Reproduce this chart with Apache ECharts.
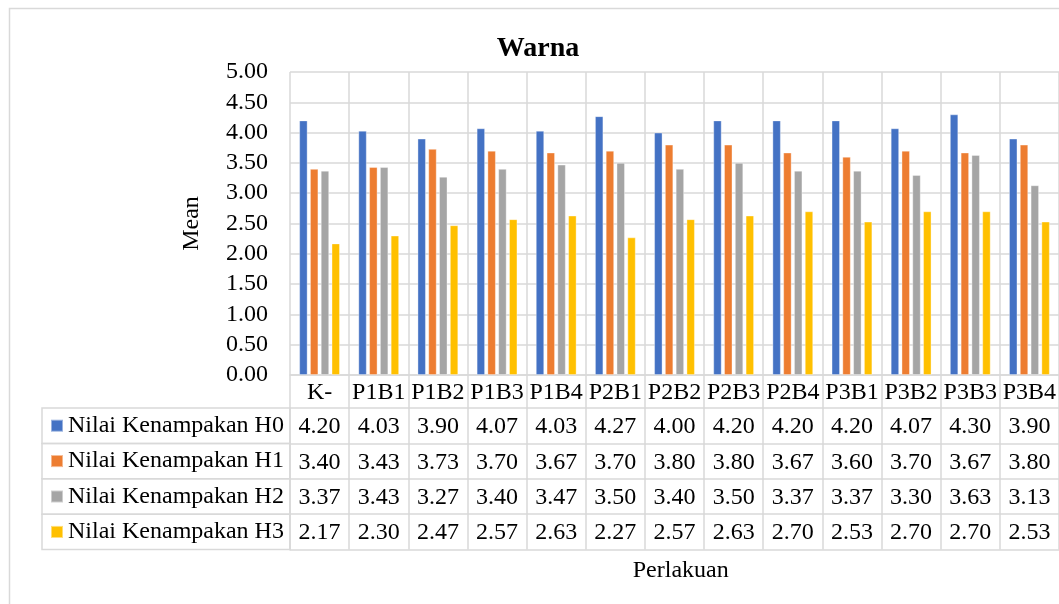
<!DOCTYPE html>
<html>
<head>
<meta charset="utf-8">
<script src="https://cdn.jsdelivr.net/npm/echarts@6/dist/echarts.min.js"></script>
<style>html,body{margin:0;padding:0;background:#fff;}#c{width:1059px;height:604px;}</style>
</head>
<body>
<div id="c"></div>
<script>
var categories = ['K-','P1B1','P1B2','P1B3','P1B4','P2B1','P2B2','P2B3','P2B4','P3B1','P3B2','P3B3','P3B4'];
var seriesNames = ['Nilai Kenampakan H0','Nilai Kenampakan H1','Nilai Kenampakan H2','Nilai Kenampakan H3'];
var h0 = [4.20,4.03,3.90,4.07,4.03,4.27,4.00,4.20,4.20,4.20,4.07,4.30,3.90];
var h1 = [3.40,3.43,3.73,3.70,3.67,3.70,3.80,3.80,3.67,3.60,3.70,3.67,3.80];
var h2 = [3.37,3.43,3.27,3.40,3.47,3.50,3.40,3.50,3.37,3.37,3.30,3.63,3.13];
var h3 = [2.17,2.30,2.47,2.57,2.63,2.27,2.57,2.63,2.70,2.53,2.70,2.70,2.53];
var colors = ['#4472C4','#ED7D31','#A5A5A5','#FFC000'];

var FONT = 'Liberation Serif';
var GRID_LEFT = 290, GRID_TOP = 72, GRID_W = 773.5, GRID_H = 303;
var HEADER_H = 33, ROW_H = 35.4;
var LINE = '#d9d9d9';
var allData = [h0,h1,h2,h3];

var xAxes = [{
  type:'category', data:categories, position:'bottom', gridIndex:0,
  axisLine:{show:true, lineStyle:{color:LINE, width:1.5}},
  axisTick:{show:true, length:HEADER_H, interval:0, lineStyle:{color:LINE, width:1.5}},
  axisLabel:{interval:0, margin:6, fontSize:24, fontFamily:FONT, color:'#000'},
  splitLine:{show:true, interval:0, lineStyle:{color:LINE, width:1.5}}
}];
allData.forEach(function(arr, k){
  xAxes.push({
    type:'category', data:arr.map(function(v){return v.toFixed(2);}), position:'bottom', gridIndex:0,
    offset: HEADER_H + ROW_H*k,
    axisLine:{show:true, lineStyle:{color:LINE, width:1.5}},
    axisTick:{show:true, length:ROW_H, interval:0, lineStyle:{color:LINE, width:1.5}},
    axisLabel:{interval:0, margin:7, fontSize:24, fontFamily:FONT, color:'#000'},
    splitLine:{show:false}
  });
});
xAxes.push({
  type:'category', data:categories, position:'bottom', gridIndex:0,
  offset: HEADER_H + ROW_H*4,
  axisLine:{show:true, lineStyle:{color:LINE, width:1.5}},
  axisTick:{show:false}, axisLabel:{show:false}, splitLine:{show:false}
});

var graphics = [{
  type:'rect', shape:{x:9.5, y:8.5, width:1100, height:700},
  style:{fill:'none', stroke:LINE, lineWidth:1.5}, silent:true
}];
for (var k=0;k<4;k++){
  graphics.push({
    type:'rect', shape:{x:42, y:GRID_TOP+GRID_H+HEADER_H+ROW_H*k, width:GRID_LEFT-42, height:ROW_H},
    style:{fill:'none', stroke:LINE, lineWidth:1.5}, silent:true
  });
}

var option = {
  animation:false,
  color:colors,
  title:[
    {text:'Warna', left:533, top:30, textAlign:'center', textStyle:{fontFamily:FONT, fontSize:28, fontWeight:'bold', color:'#000'}},
    {text:'Perlakuan', left:GRID_LEFT+GRID_W/2 - 1, top:554, textAlign:'center', textStyle:{fontFamily:FONT, fontSize:24, fontWeight:'normal', color:'#000'}}
  ],
  legend:{
    orient:'vertical', left:50, top:GRID_TOP+GRID_H+HEADER_H, itemGap:0, padding:0,
    itemWidth:12, itemHeight:12, icon:'rect', selectedMode:false,
    data:seriesNames,
    textStyle:{fontFamily:FONT, fontSize:24, color:'#000', lineHeight:ROW_H}
  },
  grid:{left:GRID_LEFT, top:GRID_TOP, width:GRID_W, height:GRID_H, containLabel:false},
  xAxis:xAxes,
  yAxis:{
    type:'value', min:0, max:5, interval:0.5,
    name:'Mean', nameLocation:'middle', nameGap:86, nameRotate:90,
    nameTextStyle:{fontFamily:FONT, fontSize:24, color:'#000'},
    axisLine:{show:false}, axisTick:{show:false},
    axisLabel:{margin:22, fontSize:24, fontFamily:FONT, color:'#000', formatter:function(v){return v.toFixed(2);}},
    splitLine:{show:true, lineStyle:{color:LINE, width:1.5}}
  },
  graphic:graphics,
  series: allData.map(function(arr, i){
    return {
      name:seriesNames[i], type:'bar', xAxisIndex:0, data:arr,
      barWidth:8.3, barGap:'30%',
      itemStyle:{color:colors[i], borderColor:'rgba(255,255,255,0.45)', borderWidth:0.8}
    };
  })
};
var chart = echarts.init(document.getElementById('c'), null, {renderer:'canvas'});
chart.setOption(option);
</script>
</body>
</html>
